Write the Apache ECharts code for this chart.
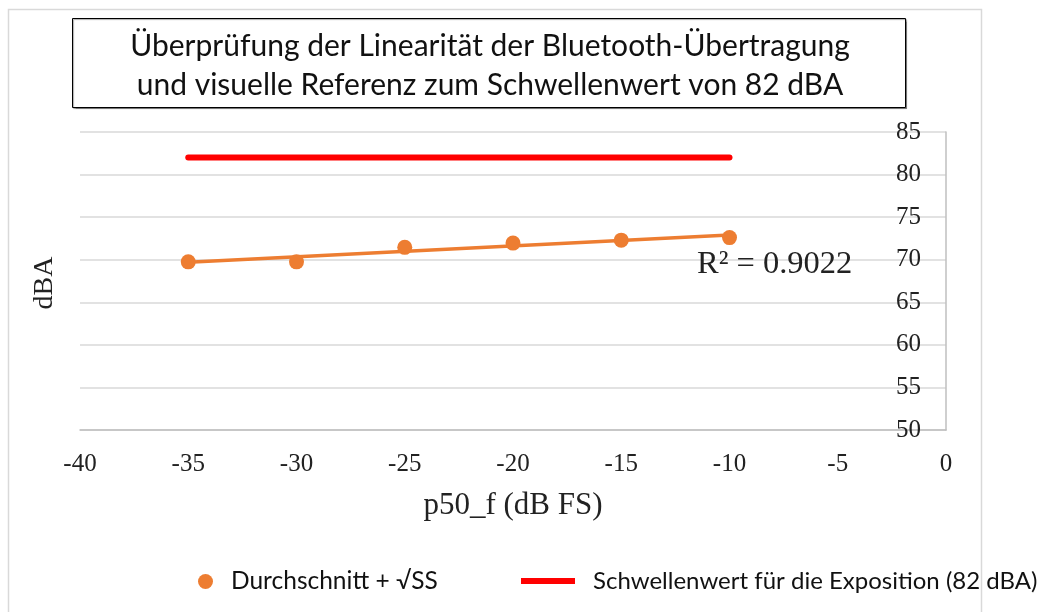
<!DOCTYPE html>
<html>
<head>
<meta charset="utf-8">
<script src="https://cdn.jsdelivr.net/npm/echarts@6/dist/echarts.min.js"></script>
<style>
  html, body { margin: 0; padding: 0; background: #fff; }
  #chart { width: 1050px; height: 612px; }
</style>
</head>
<body>
<div id="chart"></div>
<script>
// Measured sound level (dBA) per playback level p50_f (dB FS)
const levels = [-35, -30, -25, -20, -15, -10];
const dBA = [69.75, 69.75, 71.45, 71.95, 72.3, 72.6];

// Exposure threshold line
const thresholdValue = 82;
const thresholdRange = [-35, -10];

// Axis ticks
const xTicks = { min: -40, max: 0, step: 5 };
const yTicks = { min: 50, max: 85, step: 5 };

const titleLines = [
  'Überprüfung der Linearität der Bluetooth-Übertragung',
  'und visuelle Referenz zum Schwellenwert von 82 dBA'
];
const seriesNames = ['Durchschnitt + √SS', 'Schwellenwert für die Exposition (82 dBA)'];
const r2Text = 'R² = 0.9022';

// Least-squares linear trendline over the measured points
function linearFit(xs, ys) {
  const n = xs.length;
  const mx = xs.reduce((a, b) => a + b, 0) / n;
  const my = ys.reduce((a, b) => a + b, 0) / n;
  let sxy = 0, sxx = 0;
  for (let i = 0; i < n; i++) {
    sxy += (xs[i] - mx) * (ys[i] - my);
    sxx += (xs[i] - mx) * (xs[i] - mx);
  }
  const slope = sxy / sxx;
  return x => my + slope * (x - mx);
}
const fit = linearFit(levels, dBA);
const trendPts = [levels[0], levels[levels.length - 1]].map(x => [x, fit(x)]);

const ORANGE = '#ED7D31';
const GRID = '#d9d9d9';
const SERIF = 'Liberation Serif';
const SANS = 'Lato';

const chart = echarts.init(document.getElementById('chart'), null, { renderer: 'canvas' });

chart.setOption({
  animation: false,
  backgroundColor: '#ffffff',
  grid: { left: 80, right: 104, top: 132, bottom: 182, containLabel: false },
  xAxis: {
    type: 'value',
    min: xTicks.min, max: xTicks.max, interval: xTicks.step,
    name: 'p50_f (dB FS)',
    nameLocation: 'middle',
    nameGap: 60,
    nameTextStyle: { fontFamily: SERIF, fontSize: 31, color: '#222' },
    axisLine: { show: true, lineStyle: { color: '#bfbfbf', width: 1.5 } },
    axisTick: { show: false },
    splitLine: { show: false },
    axisLabel: { fontFamily: SERIF, fontSize: 25, color: '#222', margin: 22 }
  },
  yAxis: {
    type: 'value',
    position: 'right',
    min: yTicks.min, max: yTicks.max, interval: yTicks.step,
    axisLine: { show: true, lineStyle: { color: '#bfbfbf', width: 1.5 } },
    axisTick: { show: false },
    splitLine: { show: true, lineStyle: { color: GRID, width: 1.5 } },
    axisLabel: { inside: true, margin: 25, fontFamily: SERIF, fontSize: 25, color: '#222' }
  },
  legend: [
    {
      data: [{ name: seriesNames[0], icon: 'circle' }],
      left: 193, top: 564,
      itemWidth: 15, itemHeight: 15, itemGap: 10,
      textStyle: { fontFamily: SANS, fontSize: 24.5, color: '#111', padding: [0, 0, 0, 13] }
    },
    {
      data: [{ name: seriesNames[1], icon: 'rect' }],
      left: 516, top: 564,
      itemWidth: 54, itemHeight: 6, itemGap: 22,
      textStyle: { fontFamily: SANS, fontSize: 24, color: '#111', padding: [0, 0, 0, 13] }
    }
  ],
  graphic: [
    {
      type: 'rect', silent: true, z: -10,
      shape: { x: 8.5, y: 9.5, width: 973, height: 660 },
      style: { fill: 'none', stroke: GRID, lineWidth: 1.5 }
    },
    {
      type: 'rect', silent: true, z: 10,
      shape: { x: 72.5, y: 18.5, width: 833, height: 89 },
      style: { fill: '#ffffff', stroke: '#000', lineWidth: 1, shadowColor: 'rgba(0,0,0,0.35)', shadowOffsetX: 1, shadowOffsetY: 1, shadowBlur: 1 }
    },
    {
      type: 'text', silent: true, z: 11,
      x: 490, y: 46,
      style: { text: titleLines[0], fontFamily: SANS, fontSize: 30, fill: '#111', textAlign: 'center', textVerticalAlign: 'middle' }
    },
    {
      type: 'text', silent: true, z: 11,
      x: 490, y: 85,
      style: { text: titleLines[1], fontFamily: SANS, fontSize: 30, fill: '#111', textAlign: 'center', textVerticalAlign: 'middle' }
    },
    {
      type: 'text', silent: true, z: 11,
      x: 45, y: 283, rotation: Math.PI / 2,
      style: { text: 'dBA', fontFamily: SERIF, fontSize: 28, fill: '#222', textAlign: 'center', textVerticalAlign: 'middle' }
    },
    {
      type: 'text', silent: true, z: 11,
      x: 697, y: 264,
      style: { text: r2Text, fontFamily: SERIF, fontSize: 32.5, fill: '#222', textAlign: 'left', textVerticalAlign: 'middle' }
    }
  ],
  series: [
    {
      name: seriesNames[1],
      type: 'line',
      data: thresholdRange.map(x => [x, thresholdValue]),
      symbol: 'none',
      lineStyle: { color: '#FF0000', width: 6, cap: 'round' },
      itemStyle: { color: '#FF0000' },
      z: 2
    },
    {
      name: 'Trend',
      type: 'line',
      data: trendPts,
      symbol: 'none',
      lineStyle: { color: ORANGE, width: 3.5 },
      z: 3
    },
    {
      name: seriesNames[0],
      type: 'scatter',
      data: levels.map((x, i) => [x, dBA[i]]),
      symbol: 'circle',
      symbolSize: 15,
      itemStyle: { color: ORANGE, opacity: 1 },
      z: 4
    }
  ]
});
</script>
</body>
</html>
